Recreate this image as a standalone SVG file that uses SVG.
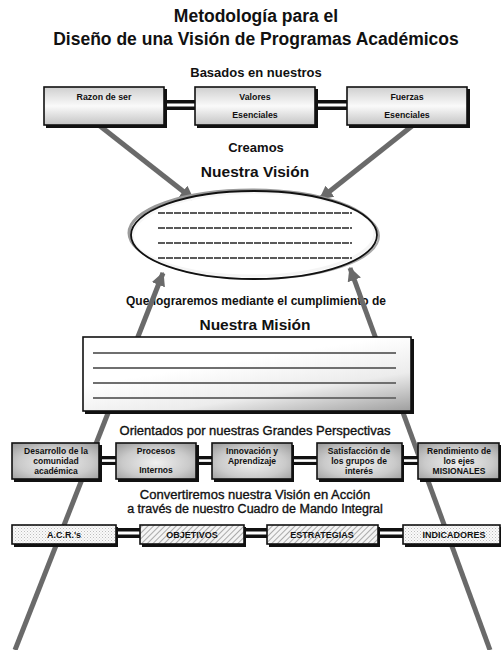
<svg xmlns="http://www.w3.org/2000/svg" width="501" height="650" viewBox="0 0 501 650">
  <defs>
    <style>
      text { font-family: "Liberation Sans", Arial, sans-serif; fill: #111; text-anchor: middle; }
      .title { font-size: 17.5px; font-weight: bold; }
      .head { font-size: 13px; font-weight: bold; }
      .big { font-size: 15.5px; font-weight: bold; }
      .mid { font-size: 12px; font-weight: bold; }
      .sub { font-size: 13px; stroke: #111; stroke-width: 0.35; }
      .small { font-size: 8.8px; font-weight: bold; }
      .psp { font-size: 8.5px; font-weight: bold; }
      .cmi { font-size: 9px; font-weight: bold; }
      .shadow { fill: #111; }
      .frame { stroke: #111; stroke-width: 1.6; }
      .bar { fill: #111; }
      .gap { fill: #fff; }
      .flow { stroke: #6a6a6a; stroke-width: 5; fill: none; }
      .rule { stroke: #6f6f6f; stroke-width: 1.8; }
      .dash { stroke: #5a5a5a; stroke-width: 2; stroke-dasharray: 7 1; }
    </style>
    <linearGradient id="gTop" x1="0" y1="0" x2="0" y2="1">
      <stop offset="0" stop-color="#cfcfcf"/>
      <stop offset="0.5" stop-color="#fafafa"/>
      <stop offset="1" stop-color="#c4c4c4"/>
    </linearGradient>
    <radialGradient id="gPsp" cx="0.5" cy="0.55" r="0.7">
      <stop offset="0" stop-color="#f0f0f0"/>
      <stop offset="0.6" stop-color="#cacaca"/>
      <stop offset="1" stop-color="#9c9c9c"/>
    </radialGradient>
    <linearGradient id="gMis" x1="0.5" y1="0.3" x2="1" y2="1">
      <stop offset="0" stop-color="#ffffff"/>
      <stop offset="0.5" stop-color="#ececec"/>
      <stop offset="1" stop-color="#9e9e9e"/>
    </linearGradient>
    <pattern id="dots" width="3" height="3" patternUnits="userSpaceOnUse">
      <rect width="3" height="3" fill="#fafafa"/>
      <rect x="0" y="0" width="1" height="1" fill="#bdbdbd"/>
      <rect x="1.5" y="1.5" width="1" height="1" fill="#cfcfcf"/>
    </pattern>
    <pattern id="hatch" width="4" height="4" patternUnits="userSpaceOnUse" patternTransform="rotate(45)">
      <rect width="4" height="4" fill="#f4f4f4"/>
      <line x1="0" y1="0" x2="0" y2="4" stroke="#8a8a8a" stroke-width="1.4"/>
    </pattern>
    <marker id="head" viewBox="0 0 10 10" refX="9" refY="5" markerWidth="14" markerHeight="14" markerUnits="userSpaceOnUse" orient="auto">
      <path d="M0,0 L10,5 L0,10 z" fill="#6a6a6a"/>
    </marker>
  </defs>

  <rect width="501" height="650" fill="#fff"/>

  <!-- headings -->
  <g id="titles">
    <text class="title" x="256" y="22">Metodología para el</text>
    <text class="title" x="256" y="45">Diseño de una Visión de Programas Académicos</text>
    <text class="head" x="256" y="77">Basados en nuestros</text>
    <text class="head" x="256" y="152">Creamos</text>
    <text class="big" x="255" y="177">Nuestra Visión</text>
    <text class="mid" x="256" y="305">Que lograremos mediante el cumplimiento de</text>
    <text class="big" x="255" y="330">Nuestra Misión</text>
    <text class="sub" x="255" y="435">Orientados por nuestras Grandes Perspectivas</text>
    <text class="sub" x="255" y="499">Convertiremos nuestra Visión en Acción</text>
    <text class="sub" x="255" y="513" style="font-size:12.5px">a través de nuestro Cuadro de Mando Integral</text>
  </g>

  <!-- arrows and double-bar links -->
  <g id="connectors">
    <line class="flow" x1="100" y1="126" x2="193" y2="199" marker-end="url(#head)"/>
    <line class="flow" x1="412" y1="126" x2="320" y2="199" marker-end="url(#head)"/>
    <line class="flow" x1="15" y1="650" x2="163" y2="273" marker-end="url(#head)"/>
    <line class="flow" x1="490" y1="650" x2="350" y2="268" marker-end="url(#head)"/>

    <!-- top row links -->
    <rect class="bar" x="163" y="100" width="34" height="10"/>
    <rect class="gap" x="163" y="103.5" width="34" height="3"/>
    <rect class="bar" x="315" y="100" width="34" height="10"/>
    <rect class="gap" x="315" y="103.5" width="34" height="3"/>

    <!-- perspectives links -->
    <rect class="bar" x="99" y="456" width="19" height="9"/>
    <rect class="gap" x="99" y="459.3" width="19" height="2.6"/>
    <rect class="bar" x="196" y="456" width="18" height="9"/>
    <rect class="gap" x="196" y="459.3" width="18" height="2.6"/>
    <rect class="bar" x="292" y="456" width="27" height="9"/>
    <rect class="gap" x="292" y="459.3" width="27" height="2.6"/>
    <rect class="bar" x="402" y="456" width="18" height="9"/>
    <rect class="gap" x="402" y="459.3" width="18" height="2.6"/>

    <!-- scorecard links -->
    <rect class="bar" x="116" y="528" width="26" height="10"/>
    <rect class="gap" x="116" y="531.5" width="26" height="3"/>
    <rect class="bar" x="244" y="528" width="25" height="10"/>
    <rect class="gap" x="244" y="531.5" width="25" height="3"/>
    <rect class="bar" x="378" y="528" width="27" height="10"/>
    <rect class="gap" x="378" y="531.5" width="27" height="3"/>
  </g>

  <!-- top row -->
  <g id="razon">
    <rect class="shadow" x="46" y="89" width="121" height="39"/>
    <rect class="frame" x="44" y="87" width="120" height="38" fill="url(#gTop)"/>
    <text class="small" x="104" y="100">Razon de ser</text>
  </g>
  <g id="valores">
    <rect class="shadow" x="197" y="89" width="121" height="39"/>
    <rect class="frame" x="195" y="87" width="120" height="38" fill="url(#gTop)"/>
    <text class="small" x="255" y="100">Valores</text>
    <text class="small" x="255" y="118">Esenciales</text>
  </g>
  <g id="fuerzas">
    <rect class="shadow" x="349" y="89" width="121" height="39"/>
    <rect class="frame" x="347" y="87" width="120" height="38" fill="url(#gTop)"/>
    <text class="small" x="407" y="100">Fuerzas</text>
    <text class="small" x="407" y="118">Esenciales</text>
  </g>

  <!-- vision ellipse -->
  <g id="vision">
    <ellipse cx="252" cy="233" rx="123" ry="43" fill="none" stroke="#9a9a9a" stroke-width="3"/>
    <ellipse cx="256" cy="236" rx="123" ry="43" fill="none" stroke="#aaaaaa" stroke-width="2"/>
    <ellipse cx="254" cy="235" rx="123" ry="44" fill="#fff" fill-opacity="0.9" stroke="#111" stroke-width="1.8"/>
    <line class="dash" x1="158" y1="213" x2="352" y2="213"/>
    <line class="dash" x1="158" y1="228" x2="352" y2="228"/>
    <line class="dash" x1="158" y1="243" x2="352" y2="243"/>
    <line class="dash" x1="158" y1="258" x2="352" y2="258"/>
  </g>

  <!-- mission box -->
  <g id="mision">
    <rect class="shadow" x="85" y="339" width="329" height="75"/>
    <rect class="frame" x="83" y="337" width="328" height="74" fill="url(#gMis)"/>
    <line class="rule" x1="93" y1="353" x2="396" y2="353"/>
    <line class="rule" x1="93" y1="368" x2="396" y2="368"/>
    <line class="rule" x1="93" y1="383" x2="396" y2="383"/>
    <line class="rule" x1="93" y1="398" x2="396" y2="398"/>
  </g>

  <!-- perspectives -->
  <g id="desarrollo">
    <rect class="shadow" x="14" y="445" width="88" height="37"/>
    <rect class="frame" x="12" y="443" width="87" height="36" fill="url(#gPsp)"/>
    <text class="psp" x="56" y="454">Desarrollo de la</text>
    <text class="psp" x="56" y="464">comunidad</text>
    <text class="psp" x="56" y="474">académica</text>
  </g>
  <g id="procesos">
    <rect class="shadow" x="118" y="445" width="81" height="37"/>
    <rect class="frame" x="116" y="443" width="80" height="36" fill="url(#gPsp)"/>
    <text class="psp" x="156" y="454">Procesos</text>
    <text class="psp" x="156" y="473">Internos</text>
  </g>
  <g id="innovacion">
    <rect class="shadow" x="214" y="445" width="80" height="37"/>
    <rect class="frame" x="212" y="443" width="80" height="36" fill="url(#gPsp)"/>
    <text class="psp" x="252" y="454">Innovación y</text>
    <text class="psp" x="252" y="464">Aprendizaje</text>
  </g>
  <g id="satisfaccion">
    <rect class="shadow" x="319" y="445" width="85" height="37"/>
    <rect class="frame" x="317" y="443" width="85" height="36" fill="url(#gPsp)"/>
    <text class="psp" x="359" y="454">Satisfacción de</text>
    <text class="psp" x="359" y="464">los grupos de</text>
    <text class="psp" x="359" y="474">interés</text>
  </g>
  <g id="rendimiento">
    <rect class="shadow" x="420" y="445" width="82" height="37"/>
    <rect class="frame" x="418" y="443" width="81" height="36" fill="url(#gPsp)"/>
    <text class="psp" x="459" y="454">Rendimiento de</text>
    <text class="psp" x="459" y="464">los ejes</text>
    <text class="psp" x="459" y="474">MISIONALES</text>
  </g>

  <!-- scorecard -->
  <g id="acr">
    <rect class="shadow" x="14" y="527" width="104" height="20"/>
    <rect class="frame" x="12" y="525" width="104" height="19" fill="url(#dots)"/>
    <text class="cmi" x="64" y="538">A.C.R.'s</text>
  </g>
  <g id="objetivos">
    <rect class="shadow" x="142" y="527" width="104" height="20"/>
    <rect class="frame" x="140" y="525" width="104" height="19" fill="url(#hatch)"/>
    <text class="cmi" x="192" y="538">OBJETIVOS</text>
  </g>
  <g id="estrategias">
    <rect class="shadow" x="269" y="527" width="111" height="20"/>
    <rect class="frame" x="267" y="525" width="111" height="19" fill="url(#hatch)"/>
    <text class="cmi" x="322" y="538">ESTRATEGIAS</text>
  </g>
  <g id="indicadores">
    <rect class="shadow" x="405" y="527" width="97" height="20"/>
    <rect class="frame" x="403" y="525" width="97" height="19" fill="url(#dots)"/>
    <text class="cmi" x="454" y="538">INDICADORES</text>
  </g>
</svg>
